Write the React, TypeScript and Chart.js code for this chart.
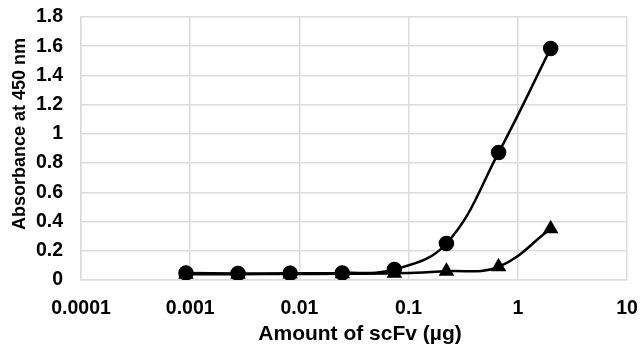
import React, { useEffect, useRef } from "react";
import { Chart, registerables } from "chart.js";

Chart.register(...registerables);

const amounts = [0.000914, 0.00274, 0.00823, 0.0247, 0.0741, 0.222, 0.667, 2];
const seriesCircle = [0.048, 0.045, 0.046, 0.048, 0.072, 0.25, 0.872, 1.585];
const seriesTriangle = [0.04, 0.04, 0.041, 0.043, 0.046, 0.06, 0.09, 0.35];
const xTickValues = [0.0001, 0.001, 0.01, 0.1, 1, 10];
const xTickLabels = ["0.0001", "0.001", "0.01", "0.1", "1", "10"];
const yTickLabels = ["0", "0.2", "0.4", "0.6", "0.8", "1", "1.2", "1.4", "1.6", "1.8"];
const xTitle = "Amount of scFv (µg)";
const yTitle = "Absorbance at 450 nm";

const FONT = "'Liberation Sans', Arial, sans-serif";
const GRID = "#dcdcdc";

const axisTitles = {
  id: "axisTitles",
  afterDraw(chart: any) {
    const ctx = chart.ctx;
    ctx.save();
    ctx.fillStyle = "#000";
    ctx.textAlign = "center";
    ctx.textBaseline = "middle";
    ctx.font = `bold 21px ${FONT}`;
    ctx.fillText(xTitle, 360, 334);
    ctx.translate(20, 134);
    ctx.rotate(-Math.PI / 2);
    ctx.font = `bold 18px ${FONT}`;
    ctx.fillText(yTitle, 0, 0);
    ctx.restore();
  },
};

export default function App() {
  const ref = useRef<HTMLCanvasElement | null>(null);
  useEffect(() => {
    if (!ref.current) return;
    const chart = new Chart(ref.current, {
      type: "line",
      data: {
        datasets: [
          {
            label: "circle",
            data: amounts.map((x, i) => ({ x, y: seriesCircle[i] })),
            borderColor: "#000",
            backgroundColor: "#000",
            borderWidth: 2.5,
            pointStyle: "circle",
            pointRadius: 6.5,
            tension: 0.4,
          },
          {
            label: "triangle",
            data: amounts.map((x, i) => ({ x, y: seriesTriangle[i] })),
            borderColor: "#000",
            backgroundColor: "#000",
            borderWidth: 2.5,
            pointStyle: "triangle",
            pointRadius: 6.5,
            tension: 0.4,
          },
        ],
      },
      plugins: [axisTitles],
      options: {
        animation: false,
        responsive: false,
        maintainAspectRatio: false,
        layout: { padding: { top: 17, right: 15, left: 0, bottom: 0 } },
        plugins: { legend: { display: false }, tooltip: { enabled: false } },
        scales: {
          x: {
            type: "logarithmic",
            min: 0.0001,
            max: 10,
            afterBuildTicks: (scale: any) => {
              scale.ticks = xTickValues.map((v) => ({ value: v }));
            },
            afterFit: (scale: any) => {
              scale.height = 68;
              scale.paddingLeft = 0;
              scale.paddingRight = 0;
            },
            ticks: {
              autoSkip: false,
              maxRotation: 0,
              padding: 17,
              color: "#000",
              font: { family: FONT, size: 19.5, weight: "bold" },
              callback: (v: any) => {
                const i = xTickValues.findIndex((t) => Math.abs(t - v) / t < 1e-6);
                return i >= 0 ? xTickLabels[i] : "";
              },
            },
            grid: { color: GRID, lineWidth: 1.5, drawTicks: false },
            border: { color: GRID, width: 1.5 },
          },
          y: {
            type: "linear",
            min: 0,
            max: 1.8,
            afterFit: (scale: any) => {
              scale.width = 81;
              scale.paddingTop = 0;
              scale.paddingBottom = 0;
            },
            ticks: {
              stepSize: 0.2,
              padding: 18,
              color: "#000",
              font: { family: FONT, size: 19.5, weight: "bold" },
              callback: (_v: any, i: number) => yTickLabels[i],
            },
            grid: { color: GRID, lineWidth: 1.5, drawTicks: false },
            border: { color: GRID, width: 1.5 },
          },
        },
      },
    });
    return () => chart.destroy();
  }, []);
  return (
    <div style={{ position: "fixed", left: 0, top: 0, width: 642, height: 348, background: "#fff" }}>
      <canvas ref={ref} width={642} height={348} style={{ width: 642, height: 348 }} />
    </div>
  );
}
